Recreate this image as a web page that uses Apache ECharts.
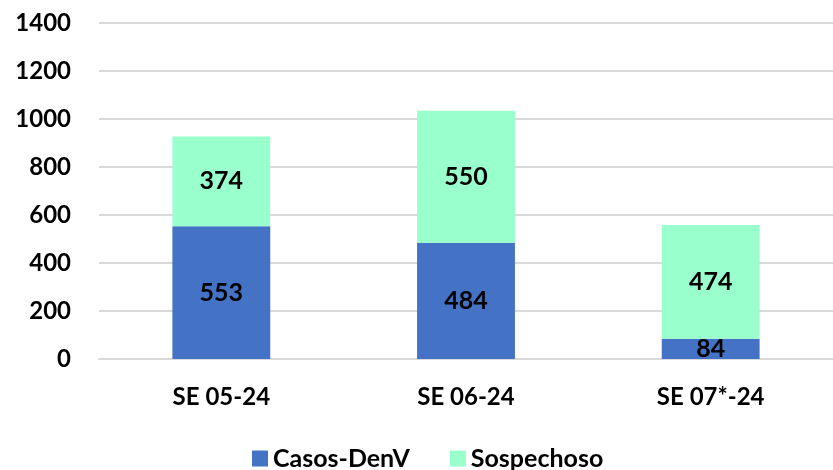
<!DOCTYPE html>
<html><head><meta charset="utf-8">
<script src="https://cdn.jsdelivr.net/npm/echarts@6/dist/echarts.min.js"></script>
<style>html,body{margin:0;padding:0;background:#fff}#c{width:833px;height:470px}</style>
</head><body><div id="c"></div>
<script>
const categories = ['SE 05-24', 'SE 06-24', 'SE 07*-24'];
const casosDenV = [553, 484, 84];
const sospechoso = [374, 550, 474];
const yTicks = [0, 200, 400, 600, 800, 1000, 1200, 1400];

const FONT = 'Lato';
const W = 'bold';
const chart = echarts.init(document.getElementById('c'));
const lbl = {show: true, position: 'inside', color: '#000', fontFamily: FONT, fontWeight: W, fontSize: 25};
chart.setOption({
  animation: false,
  grid: {left: 99, right: -1, top: 23, bottom: 111},
  legend: {
    top: 446, left: 252, itemWidth: 16, itemHeight: 16, itemGap: 40, padding: 0,
    icon: 'rect',
    textStyle: {fontFamily: FONT, fontWeight: W, fontSize: 25, color: '#000'},
    data: ['Casos-DenV', 'Sospechoso']
  },
  xAxis: {
    type: 'category', data: categories,
    axisLine: {show: true, lineStyle: {color: '#d9d9d9', width: 2}},
    axisTick: {show: false},
    axisLabel: {color: '#000', fontFamily: FONT, fontWeight: W, fontSize: 24, margin: 26}
  },
  yAxis: {
    type: 'value', min: yTicks[0], max: yTicks[yTicks.length - 1], interval: 200,
    axisLine: {show: false}, axisTick: {show: false},
    splitLine: {lineStyle: {color: '#d9d9d9', width: 2}},
    axisLabel: {color: '#000', fontFamily: FONT, fontWeight: W, fontSize: 24, margin: 28,
      formatter: v => String(v)}
  },
  series: [
    {name: 'Casos-DenV', type: 'bar', stack: 's', data: casosDenV, barWidth: '40%',
     itemStyle: {color: '#4472C4'}, label: lbl},
    {name: 'Sospechoso', type: 'bar', stack: 's', data: sospechoso, barWidth: '40%',
     itemStyle: {color: '#99FFCC'}, label: lbl}
  ]
});
</script></body></html>
